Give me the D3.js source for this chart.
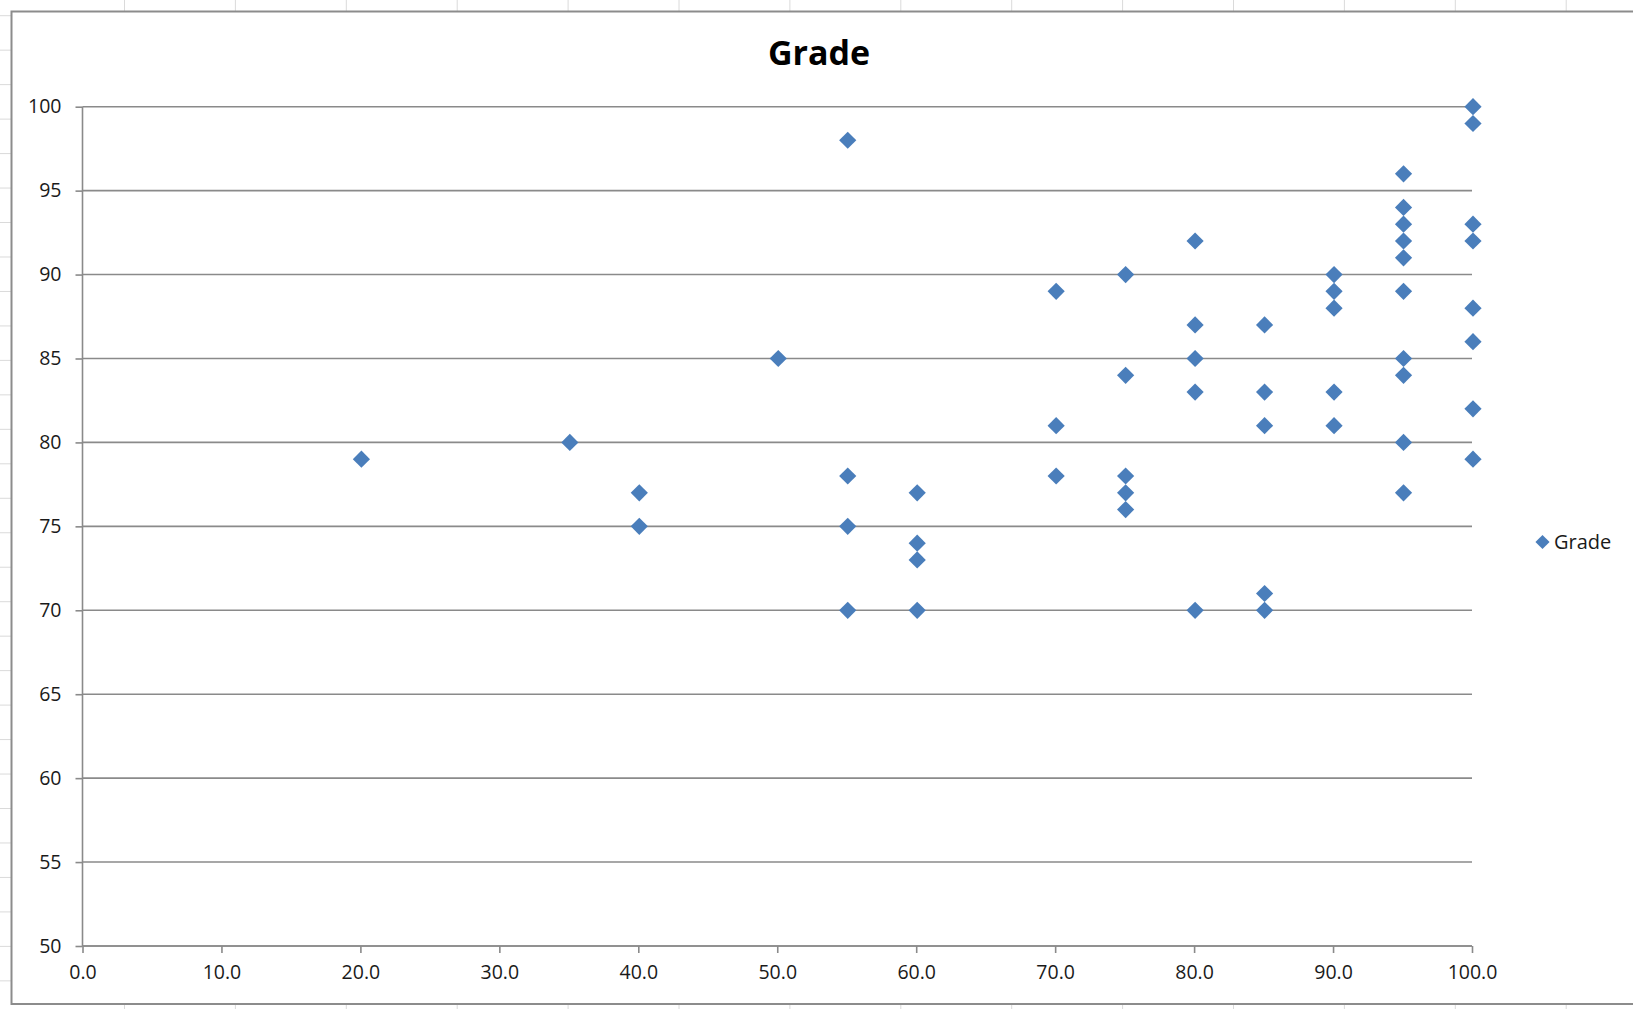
<!DOCTYPE html>
<html>
<head>
<meta charset="utf-8">
<script src="https://cdn.jsdelivr.net/npm/d3@7"></script>
<style>
  html, body { margin: 0; padding: 0; background: #ffffff; }
  svg { display: block; }
  .tick text { font-family: "Open Sans", sans-serif; fill: #1a1a1a; }
</style>
</head>
<body>
<script>
// data: study score (x) and grade (y)
const xValues = [20, 35, 40, 40, 50,
  55, 55, 55, 55,
  60, 60, 60, 60,
  70, 70, 70,
  75, 75, 75, 75, 75,
  80, 80, 80, 80, 80,
  85, 85, 85, 85, 85,
  90, 90, 90, 90, 90,
  95, 95, 95, 95, 95, 95, 95, 95, 95, 95,
  100, 100, 100, 100, 100, 100, 100, 100];
const grades = [79, 80, 77, 75, 85,
  98, 78, 75, 70,
  77, 74, 73, 70,
  89, 81, 78,
  90, 84, 78, 77, 76,
  92, 87, 85, 83, 70,
  87, 83, 81, 71, 70,
  90, 89, 88, 83, 81,
  96, 94, 93, 92, 91, 89, 85, 84, 80, 77,
  100, 99, 93, 92, 88, 86, 82, 79];
const xTicks = [0, 10, 20, 30, 40, 50, 60, 70, 80, 90, 100];
const yTicks = [50, 55, 60, 65, 70, 75, 80, 85, 90, 95, 100];
const seriesName = "Grade";

const width = 1633;
const height = 1009;
const plot = {left: 82.5, right: 1472, top: 106.7, bottom: 946};
const gridColor = "#8a8a8a";
const markerColor = "#4a7ebb";

const svg = d3.select("body").append("svg")
  .attr("width", width)
  .attr("height", height);

// spreadsheet cells behind the chart object
const sheet = svg.append("g").attr("stroke", "#dadada").attr("stroke-width", 1);
d3.range(124.5, width, 110.9).forEach((x) => {
  sheet.append("line").attr("x1", x).attr("x2", x).attr("y1", 0).attr("y2", height);
});
d3.range(15.7, height, 34.47).forEach((y) => {
  sheet.append("line").attr("x1", 0).attr("x2", width).attr("y1", y).attr("y2", y);
});

// chart frame
svg.append("rect")
  .attr("x", 11.5)
  .attr("y", 11.5)
  .attr("width", width + 20)
  .attr("height", 992.5)
  .attr("fill", "#ffffff")
  .attr("stroke", "#8c8c8c")
  .attr("stroke-width", 2);

const x = d3.scaleLinear().domain([0, 100]).range([plot.left, plot.right]);
const y = d3.scaleLinear().domain([50, 100]).range([plot.bottom, plot.top]);

// horizontal gridlines
svg.append("g")
  .selectAll("line")
  .data(yTicks)
  .enter()
  .append("line")
  .attr("x1", plot.left)
  .attr("x2", plot.right)
  .attr("y1", (d) => y(d))
  .attr("y2", (d) => y(d))
  .attr("stroke", gridColor)
  .attr("stroke-width", 1.6);

// y axis
const yAxis = svg.append("g")
  .attr("transform", `translate(${plot.left},0)`)
  .call(d3.axisLeft(y).tickValues(yTicks).tickSize(7).tickPadding(14).tickFormat(d3.format("d")));

// x axis
const xAxis = svg.append("g")
  .attr("transform", `translate(0,${plot.bottom})`)
  .call(d3.axisBottom(x).tickValues(xTicks).tickSize(7).tickPadding(12).tickFormat(d3.format(".1f")));

[yAxis, xAxis].forEach((ax) => {
  ax.select(".domain").attr("stroke", gridColor).attr("stroke-width", 1.6);
  ax.selectAll(".tick line").attr("stroke", gridColor).attr("stroke-width", 1.6);
  ax.selectAll(".tick text").style("font-size", "19.5px");
});
yAxis.select(".domain").attr("d", `M0,${plot.bottom}V${plot.top}`);
xAxis.select(".domain").attr("d", `M${plot.left},0H${plot.right}`);

// markers
const diamond = d3.symbol().type(d3.symbolSquare).size(148);
svg.append("g")
  .selectAll("path")
  .data(xValues)
  .enter()
  .append("path")
  .attr("d", diamond)
  .attr("transform", (d, i) => `translate(${x(d) + 1},${y(grades[i])}) rotate(45)`)
  .attr("fill", markerColor);

// title
svg.append("text")
  .attr("x", 819)
  .attr("y", 65)
  .attr("text-anchor", "middle")
  .style("font-family", "'Open Sans', sans-serif")
  .style("font-weight", "bold")
  .style("font-size", "34px")
  .style("fill", "#000")
  .text(seriesName);

// legend
const legend = svg.append("g").attr("transform", "translate(1542.5,542)");
legend.append("path")
  .attr("d", d3.symbol().type(d3.symbolSquare).size(100))
  .attr("transform", "rotate(45)")
  .attr("fill", markerColor);
legend.append("text")
  .attr("x", 11.5)
  .attr("y", 7)
  .style("font-family", "'Open Sans', sans-serif")
  .style("font-size", "20px")
  .style("fill", "#1a1a1a")
  .text(seriesName);
</script>
</body>
</html>
